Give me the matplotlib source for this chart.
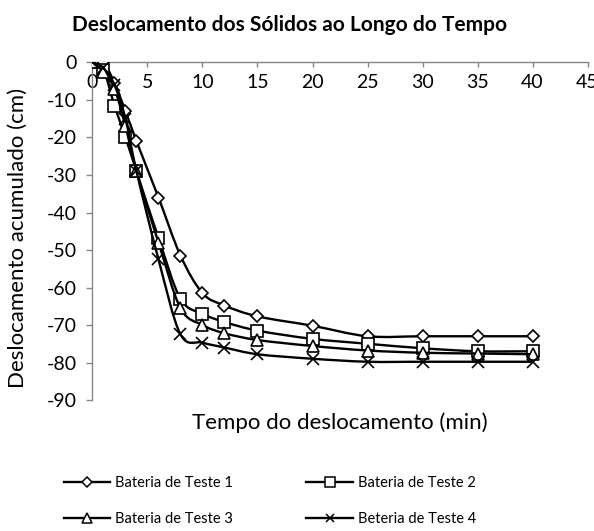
import numpy as np
import matplotlib
matplotlib.use("Agg")
import matplotlib.pyplot as plt
from matplotlib.path import Path
from matplotlib.patches import PathPatch
from matplotlib.lines import Line2D

plt.rcParams['font.family'] = ['Lato', 'DejaVu Sans']
plt.rcParams['axes.unicode_minus'] = False

# dados
tempo = [0, 1, 2, 3, 4, 6, 8, 10, 12, 15, 20, 25, 30, 35, 40]
bateria1 = [0, 0, -5.5, -13, -21, -36, -51.5, -61.5, -64.8, -67.7, -70.2, -73, -73, -73, -73]
bateria2 = [0, -2, -11.5, -20, -29, -46.8, -63, -67, -69.2, -71.5, -73.7, -75, -76.2, -77, -77]
bateria3 = [0, -2.5, -7, -17, -29, -48, -65.5, -70, -72.2, -74, -75.6, -76.8, -77.4, -77.6, -77.8]
bateria4 = [0, -1.5, -6, -15, -29, -52.5, -72.5, -74.7, -76, -77.8, -79, -79.8, -79.8, -79.8, -79.8]

nomes = ['Bateria de Teste 1', 'Bateria de Teste 2', 'Bateria de Teste 3', 'Beteria de Teste 4']
series = [bateria1, bateria2, bateria3, bateria4]
marcadores = [('D', 6.5), ('s', 9), ('^', 9), ('x', 8.5)]

cinza = '#868686'


def curva_suave(x, y):
    # linha suavizada tipo Excel (bezier cubica pelos pontos)
    p = np.column_stack([x, y]).astype(float)
    n = len(p)
    verts = [p[0]]
    codes = [Path.MOVETO]
    for i in range(n - 1):
        p0 = p[i - 1] if i > 0 else p[i]
        p3 = p[i + 2] if i + 2 < n else p[i + 1]
        c1 = p[i] + (p[i + 1] - p0) / 6.0
        c2 = p[i + 1] - (p3 - p[i]) / 6.0
        verts += [c1, c2, p[i + 1]]
        codes += [Path.CURVE4] * 3
    return Path(verts, codes)


fig = plt.figure(figsize=(5.94, 5.31), dpi=100)
fig.subplots_adjust(left=0.1557, right=0.9891, bottom=0.2467, top=0.8823)
ax = fig.add_subplot(111)

handles = []
for k, (vals, nome, (mk, ms)) in enumerate(zip(series, nomes, marcadores)):
    patch = PathPatch(curva_suave(tempo, vals), facecolor='none', edgecolor='black',
                      linewidth=1.7, zorder=2 + 2 * k)
    ax.add_patch(patch)
    ax.plot(tempo, vals, linestyle='none', marker=mk, markersize=ms,
            markerfacecolor='white', markeredgecolor='black', markeredgewidth=1.2,
            zorder=3 + 2 * k)
    handles.append(Line2D([], [], color='black', linewidth=1.7, marker=mk,
                          markersize=ms * 0.75, markerfacecolor='white',
                          markeredgecolor='black', markeredgewidth=1.1))

ax.set_xlim(0, 45)
ax.set_ylim(-90, 0)
ax.set_xticks(np.arange(0, 46, 5))
ax.set_yticks(np.arange(-90, 1, 10))

ax.spines['top'].set_visible(False)
ax.spines['right'].set_visible(False)
ax.spines['bottom'].set_position(('data', 0))
ax.spines['bottom'].set_color(cinza)
ax.spines['left'].set_color(cinza)
ax.spines['bottom'].set_linewidth(1.0)
ax.spines['left'].set_linewidth(1.0)
ax.spines['bottom'].set_zorder(1)

ax.tick_params(axis='x', direction='out', length=3.6, width=1.0, color=cinza,
               labelsize=14, pad=5)
ax.tick_params(axis='y', direction='out', length=4, width=1.0, color=cinza,
               labelsize=14, pad=7.5)

ax.set_xlabel('Tempo do deslocamento (min)', fontsize=16, va='center')
ax.xaxis.set_label_coords(0.5, -0.066)
ax.set_ylabel('Deslocamento acumulado (cm)', fontsize=16, va='center')
ax.yaxis.set_label_coords(-0.15, 0.48)

fig.text(0.488, 1 - 25 / 531, 'Deslocamento dos Sólidos ao Longo do Tempo',
         ha='center', va='center', fontsize=15, fontweight='bold')

# ordem para preencher por linhas com ncol=2
ordem = [0, 2, 1, 3]
fig.legend([handles[i] for i in ordem], [nomes[i] for i in ordem],
           loc='center', bbox_to_anchor=(0.4545, 0.0565), ncol=2,
           frameon=False, fontsize=10.5, handlelength=3.2, handletextpad=0.35,
           columnspacing=5.0, labelspacing=1.55, borderpad=0)

plt.savefig('out.png', dpi=100)
